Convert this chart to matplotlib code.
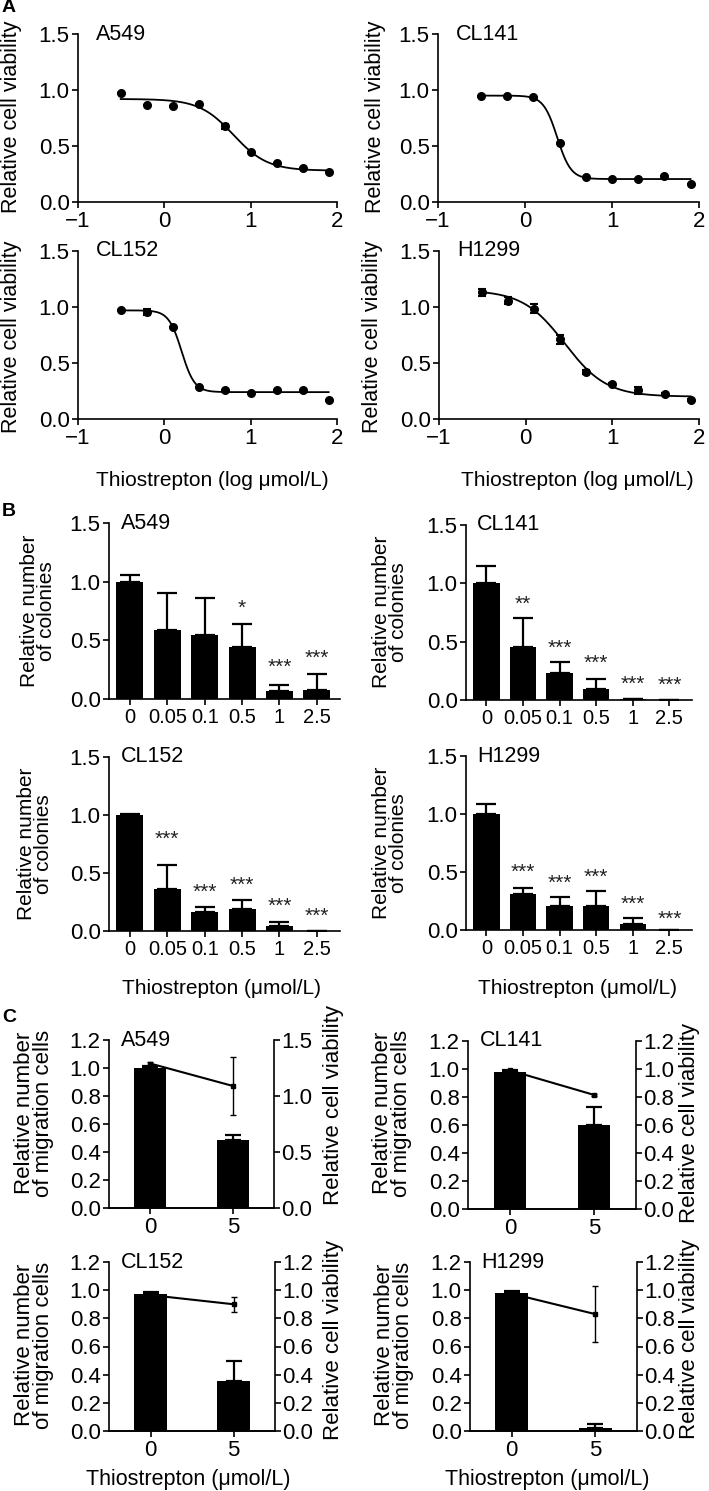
import matplotlib
matplotlib.use('Agg')
import matplotlib.pyplot as plt
import numpy as np

plt.rcParams['font.family'] = ['Liberation Sans', 'DejaVu Sans']
plt.rcParams['axes.linewidth'] = 1.2
plt.rcParams['xtick.major.width'] = 1.2
plt.rcParams['ytick.major.width'] = 1.2
plt.rcParams['xtick.major.size'] = 4
plt.rcParams['ytick.major.size'] = 4
plt.rcParams['ytick.major.pad'] = 2
plt.rcParams['xtick.major.pad'] = 2.5

# ---------------- data ----------------
cells = ['A549', 'CL141', 'CL152', 'H1299']

# A: dose response, log10 of umol/L
log_conc = [-0.505, -0.204, 0.097, 0.398, 0.699, 1.0, 1.301, 1.602, 1.903]
via_a549 = [0.97, 0.87, 0.86, 0.875, 0.675, 0.45, 0.345, 0.30, 0.265]
via_cl141 = [0.95, 0.95, 0.935, 0.525, 0.22, 0.205, 0.205, 0.23, 0.16]
via_cl152 = [0.975, 0.955, 0.82, 0.29, 0.26, 0.235, 0.26, 0.255, 0.17]
via_h1299 = [1.13, 1.055, 0.985, 0.71, 0.42, 0.31, 0.255, 0.22, 0.17]
err_a549 = [0, 0, 0, 0, 0.02, 0, 0, 0, 0]
err_cl141 = [0, 0, 0, 0, 0, 0, 0, 0, 0]
err_cl152 = [0, 0.03, 0, 0, 0, 0, 0, 0, 0]
err_h1299 = [0.03, 0.03, 0.04, 0.04, 0.015, 0.01, 0.035, 0.01, 0.01]
# fitted sigmoid parameters (top, bottom, logIC50, hill)
fit_top = [0.92, 0.95, 0.97, 1.15]
fit_bottom = [0.28, 0.205, 0.24, 0.20]
fit_logic50 = [0.80, 0.37, 0.20, 0.45]
fit_hill = [2.2, 5.5, 5.8, 1.8]

# B: colony formation
doses = ['0', '0.05', '0.1', '0.5', '1', '2.5']
col_a549 = [1.0, 0.59, 0.545, 0.445, 0.068, 0.08]
col_cl141 = [1.0, 0.457, 0.229, 0.094, 0.009, 0.0]
col_cl152 = [1.0, 0.366, 0.164, 0.193, 0.04, 0.0]
col_h1299 = [1.0, 0.31, 0.21, 0.21, 0.055, 0.0]
colerr_a549 = [0.055, 0.315, 0.313, 0.19, 0.055, 0.134]
colerr_cl141 = [0.151, 0.249, 0.10, 0.086, 0.003, 0.0]
colerr_cl152 = [0.01, 0.205, 0.044, 0.078, 0.041, 0.0]
colerr_h1299 = [0.083, 0.055, 0.074, 0.126, 0.045, 0.0]
stars_a549 = ['', '', '', '*', '***', '***']
stars_cl141 = ['', '**', '***', '***', '***', '***']
stars_cl152 = ['', '***', '***', '***', '***', '***']
stars_h1299 = ['', '***', '***', '***', '***', '***']
stary_a549 = [0, 0, 0, 0.815, 0.31, 0.39]
stary_cl141 = [0, 0.857, 0.48, 0.351, 0.177, 0.166]
stary_cl152 = [0, 0.828, 0.375, 0.433, 0.251, 0.164]
stary_h1299 = [0, 0.534, 0.443, 0.491, 0.264, 0.135]

# C: migration (bars, left axis) and viability (line, right axis)
mig_doses = ['0', '5']
mig_a549 = [1.0, 0.485]
mig_cl141 = [0.98, 0.60]
mig_cl152 = [0.97, 0.352]
mig_h1299 = [0.98, 0.024]
migerr_a549 = [0.015, 0.035]
migerr_cl141 = [0.01, 0.13]
migerr_cl152 = [0.015, 0.142]
migerr_h1299 = [0.015, 0.024]
cv_a549 = [1.29, 1.09]
cv_cl141 = [0.99, 0.815]
cv_cl152 = [0.965, 0.90]
cv_h1299 = [0.975, 0.83]
cverr_a549 = [0.01, 0.26]
cverr_cl141 = [0.005, 0.005]
cverr_cl152 = [0.005, 0.055]
cverr_h1299 = [0.005, 0.20]
cv_max = [1.5, 1.2, 1.2, 1.2]
cv_step = [0.5, 0.2, 0.2, 0.2]

W, H = 709, 1491
fig = plt.figure(figsize=(W / 100, H / 100), dpi=100)

FS_TICK = 16
FS_LAB = 15.5
FS_TICK_B = 14.5
FS_TICK_C = 16
FS_LAB_C = 16


def rect(x0, y0, x1, y1):
    return [x0 / W, 1 - y1 / H, (x1 - x0) / W, (y1 - y0) / H]


def ftext(x, y, s, **kw):
    fig.text(x / W, 1 - y / H, s, **kw)


def clean(ax, size):
    ax.spines['top'].set_visible(False)
    ax.spines['right'].set_visible(False)
    ax.tick_params(labelsize=size, direction='out')


# ---------------- panel A ----------------
a_boxes = [(78, 34, 337, 202), (438, 34, 699, 202), (78, 251, 337, 419), (439, 251, 699, 419)]
a_via = [via_a549, via_cl141, via_cl152, via_h1299]
a_err = [err_a549, err_cl141, err_cl152, err_h1299]
a_ylab = [(12, 117), (376, 117), (12, 337), (373, 337)]
for i in range(4):
    ax = fig.add_axes(rect(*a_boxes[i]))
    xs = np.linspace(log_conc[0], log_conc[-1], 200)
    ys = fit_bottom[i] + (fit_top[i] - fit_bottom[i]) / (1 + 10 ** ((xs - fit_logic50[i]) * fit_hill[i]))
    ax.plot(xs, ys, color='black', lw=1.3)
    ax.errorbar(log_conc, a_via[i], yerr=a_err[i], fmt='o', color='black', ms=5.5,
                elinewidth=1.5, capsize=3, capthick=1.5)
    ax.set_xlim(-1, 2)
    ax.set_ylim(0, 1.5)
    ax.set_xticks([-1, 0, 1, 2])
    ax.set_yticks([0, 0.5, 1.0, 1.5])
    ax.set_yticklabels(['0.0', '0.5', '1.0', '1.5'])
    clean(ax, FS_TICK)
    ax.text(0.07, 1.0, cells[i], transform=ax.transAxes, fontsize=FS_LAB, va='center')
    ftext(a_ylab[i][0], a_ylab[i][1], 'Relative cell viability', rotation=90,
          ha='center', va='center', fontsize=FS_LAB)

ftext(212, 480, 'Thiostrepton (log μmol/L)', ha='center', va='center', fontsize=15)
ftext(577, 480, 'Thiostrepton (log μmol/L)', ha='center', va='center', fontsize=15)

# ---------------- panel B ----------------
b_boxes = [(109, 523, 340, 699), (466, 525, 692, 700), (109, 757, 340, 931), (466, 756, 692, 930)]
b_val = [col_a549, col_cl141, col_cl152, col_h1299]
b_err = [colerr_a549, colerr_cl141, colerr_cl152, colerr_h1299]
b_stars = [stars_a549, stars_cl141, stars_cl152, stars_h1299]
b_stary = [stary_a549, stary_cl141, stary_cl152, stary_h1299]
b_ylab = [(38, 611), (390, 612), (35, 844), (390, 843)]
for i in range(4):
    ax = fig.add_axes(rect(*b_boxes[i]))
    pos = np.arange(len(doses))
    ax.bar(pos, b_val[i], width=0.72, color='black')
    ax.errorbar(pos, b_val[i], yerr=[np.zeros(len(doses)), b_err[i]], fmt='none',
                ecolor='black', elinewidth=1.6, capsize=7, capthick=1.6)
    for k in range(len(doses)):
        if b_stars[i][k]:
            ax.text(pos[k], b_stary[i][k] - 0.04, b_stars[i][k], ha='center', va='center',
                    fontsize=15, color='#222222')
    ax.set_xlim(-0.56, 5.62)
    ax.set_ylim(0, 1.5)
    ax.set_xticks(pos)
    ax.set_xticklabels(doses)
    ax.set_yticks([0, 0.5, 1.0, 1.5])
    ax.set_yticklabels(['0.0', '0.5', '1.0', '1.5'])
    clean(ax, FS_TICK)
    ax.tick_params(axis='x', labelsize=FS_TICK_B)
    ax.text(0.05, 1.0, cells[i], transform=ax.transAxes, fontsize=FS_LAB, va='center')
    ftext(b_ylab[i][0], b_ylab[i][1], 'Relative number\nof colonies', rotation=90,
          ha='center', va='center', fontsize=15, linespacing=0.85)

ftext(222, 988, 'Thiostrepton (μmol/L)', ha='center', va='center', fontsize=15)
ftext(578, 988, 'Thiostrepton (μmol/L)', ha='center', va='center', fontsize=15)

# ---------------- panel C ----------------
c_boxes = [(109, 1040, 274, 1208), (468, 1041, 636, 1209), (109, 1262, 275, 1431), (470, 1262, 637, 1431)]
c_mig = [mig_a549, mig_cl141, mig_cl152, mig_h1299]
c_migerr = [migerr_a549, migerr_cl141, migerr_cl152, migerr_h1299]
c_cv = [cv_a549, cv_cl141, cv_cl152, cv_h1299]
c_cverr = [cverr_a549, cverr_cl141, cverr_cl152, cverr_h1299]
c_ylab = [(34, 1113), (392, 1113), (34, 1345), (394, 1345)]
c_rlab = [(334, 1105), (689, 1123), (334, 1340), (689, 1339)]
for i in range(4):
    ax = fig.add_axes(rect(*c_boxes[i]))
    pos = np.arange(len(mig_doses))
    ax.bar(pos, c_mig[i], width=0.39, color='black')
    ax.errorbar(pos, c_mig[i], yerr=[np.zeros(2), c_migerr[i]], fmt='none',
                ecolor='black', elinewidth=1.6, capsize=6, capthick=1.6)
    ax.set_xlim(-0.5, 1.5)
    ax.set_ylim(0, 1.2)
    ax.set_xticks(pos)
    ax.set_xticklabels(mig_doses)
    ax.set_yticks(np.arange(0, 1.21, 0.2))
    ax.set_yticklabels(['%.1f' % v for v in np.arange(0, 1.21, 0.2)])
    clean(ax, FS_TICK_C)
    ax.text(0.07, 1.0, cells[i], transform=ax.transAxes, fontsize=FS_LAB, va='center')
    ax2 = ax.twinx()
    ax2.errorbar(pos, c_cv[i], yerr=c_cverr[i], fmt='-s', color='black', ms=3.5,
                 lw=1.5, elinewidth=1.0, capsize=2.5, capthick=1.0)
    ax2.set_ylim(0, cv_max[i])
    rt = np.arange(0, cv_max[i] + 1e-6, cv_step[i])
    ax2.set_yticks(rt)
    ax2.set_yticklabels(['%.1f' % v for v in rt])
    ax2.spines['top'].set_visible(False)
    ax2.spines['left'].set_visible(False)
    ax2.tick_params(labelsize=FS_TICK_C, pad=1)
    ftext(c_ylab[i][0], c_ylab[i][1], 'Relative number\nof migration cells', rotation=90,
          ha='center', va='center', fontsize=FS_LAB_C, linespacing=0.85)
    ftext(c_rlab[i][0], c_rlab[i][1], 'Relative cell viability', rotation=90,
          ha='center', va='center', fontsize=FS_LAB_C)

ftext(188, 1480, 'Thiostrepton (μmol/L)', ha='center', va='center', fontsize=15.5)
ftext(547, 1480, 'Thiostrepton (μmol/L)', ha='center', va='center', fontsize=15.5)

# panel letters
ftext(2, 8, 'A', fontsize=14, fontweight='bold', va='center')
ftext(2, 512, 'B', fontsize=14, fontweight='bold', va='center')
ftext(2, 1018, 'C', fontsize=14, fontweight='bold', va='center')

fig.savefig('out.png', dpi=100)
